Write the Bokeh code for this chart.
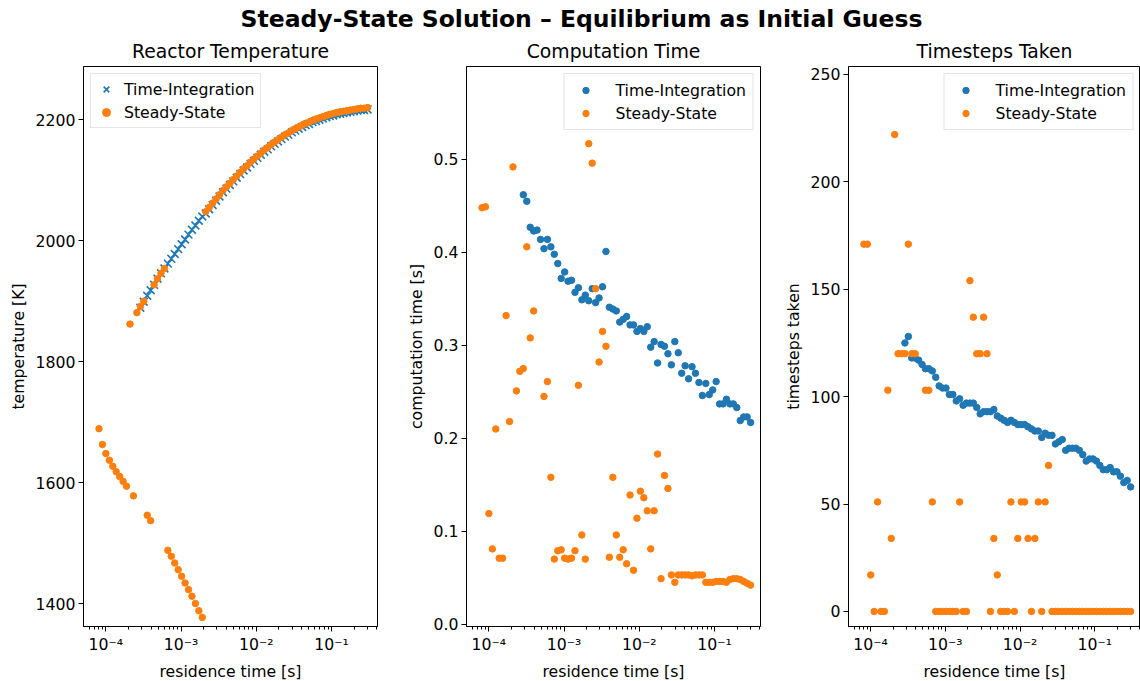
from bokeh.plotting import figure
from bokeh.layouts import row, column
from bokeh.models import (FixedTicker, CustomJSTickFormatter, Legend, LegendItem,
                          Label, Range1d)
from bokeh.embed import file_html
from bokeh.resources import INLINE

nan = float('nan')

# residence times [s] (shared grid)
res_time = [8.128e-05, 9.031e-05, 1.003e-04, 1.115e-04, 1.239e-04, 1.376e-04, 1.529e-04, 1.699e-04, 1.888e-04, 2.098e-04,
            2.331e-04, 2.590e-04, 2.878e-04, 3.198e-04, 3.553e-04, 3.948e-04, 4.386e-04, 4.874e-04, 5.415e-04, 6.017e-04,
            6.686e-04, 7.428e-04, 8.254e-04, 9.171e-04, 1.019e-03, 1.132e-03, 1.258e-03, 1.398e-03, 1.553e-03, 1.726e-03,
            1.917e-03, 2.130e-03, 2.367e-03, 2.630e-03, 2.922e-03, 3.247e-03, 3.608e-03, 4.009e-03, 4.454e-03, 4.949e-03,
            5.499e-03, 6.110e-03, 6.789e-03, 7.543e-03, 8.381e-03, 9.313e-03, 1.035e-02, 1.150e-02, 1.277e-02, 1.419e-02,
            1.577e-02, 1.752e-02, 1.947e-02, 2.163e-02, 2.404e-02, 2.671e-02, 2.968e-02, 3.297e-02, 3.664e-02, 4.071e-02,
            4.523e-02, 5.026e-02, 5.584e-02, 6.205e-02, 6.894e-02, 7.660e-02, 8.511e-02, 9.457e-02, 1.051e-01, 1.167e-01,
            1.297e-01, 1.441e-01, 1.601e-01, 1.779e-01, 1.977e-01, 2.197e-01, 2.441e-01, 2.712e-01, 3.013e-01]

# Reactor temperature [K]
temp_time_integration = [nan, nan, nan, nan, nan, nan, nan, nan, nan, nan,
                         nan, nan, 1889, 1899, 1909, 1918, 1927, 1937, 1946, 1954,
                         1962, 1970, 1978, 1986, 1994, 2002, 2010, 2018, 2025, 2033,
                         2040, 2045, 2052, 2059, 2066, 2073, 2080, 2086, 2092, 2098,
                         2104, 2110, 2116, 2121, 2127, 2132, 2137, 2142, 2147, 2151,
                         2156, 2160, 2164, 2168, 2172, 2175, 2179, 2182, 2185, 2188,
                         2191, 2193, 2196, 2198, 2200, 2202, 2204, 2206, 2207, 2209,
                         2210, 2211, 2212, 2213, 2214, 2215, 2216, 2216, 2217]
temp_steady_state = [1689, 1663, 1648, 1637, 1627, 1618, 1610, 1602, 1594, 1862,
                     1578, 1881, 1891, 1900, 1546, 1537, 1927, 1937, 1946, 1954,
                     1488, 1478, 1467, 1456, 1445, 1434, 1423, 1412, 1400, 1388,
                     1377, 2048, 2055, 2062, 2069, 2076, 2083, 2089, 2095, 2101,
                     2107, 2113, 2119, 2124, 2130, 2135, 2140, 2145, 2150, 2154,
                     2159, 2163, 2167, 2171, 2175, 2178, 2182, 2185, 2188, 2191,
                     2194, 2196, 2199, 2201, 2203, 2205, 2207, 2209, 2210, 2212,
                     2213, 2214, 2215, 2216, 2217, 2218, 2219, 2219, 2220]

# Computation time [s]
ctime_time_integration = [nan, nan, nan, nan, nan, nan, nan, nan, nan, nan,
                          nan, nan, 0.462, 0.455, 0.427, 0.423, 0.424, 0.414, 0.404, 0.414,
                          0.406, 0.398, 0.388, 0.372, 0.379, 0.369, 0.370, 0.357, 0.362, 0.349,
                          0.354, 0.348, 0.361, 0.346, 0.351, 0.363, 0.401, 0.341, 0.339, 0.337,
                          0.325, 0.328, 0.331, 0.322, 0.322, 0.315, 0.318, 0.315, 0.320, 0.298,
                          0.304, 0.281, 0.301, 0.299, 0.291, 0.279, 0.304, 0.292, 0.270, 0.278,
                          0.264, 0.277, 0.270, 0.260, 0.246, 0.259, 0.247, 0.252, 0.261, 0.237,
                          0.237, 0.242, 0.237, 0.237, 0.233, 0.219, 0.223, 0.223, 0.217]
ctime_steady_state = [0.448, 0.449, 0.119, 0.081, 0.210, 0.071, 0.071, 0.332, 0.218, 0.492,
                      0.251, 0.272, 0.275, 0.406, 0.308, 0.337, nan, nan, 0.245, 0.261,
                      0.158, 0.070, 0.079, 0.080, 0.071, 0.070, 0.071, 0.079, 0.257, 0.096,
                      0.070, 0.517, 0.496, 0.361, 0.282, 0.315, 0.299, 0.072, 0.158, 0.096,
                      0.072, 0.080, 0.065, 0.139, 0.058, 0.114, 0.143, 0.136, 0.122, 0.081,
                      0.122, 0.183, 0.049, 0.160, 0.146, 0.053, 0.045, 0.053, 0.053, 0.053,
                      0.053, 0.052, 0.053, 0.053, 0.053, 0.045, 0.045, 0.045, 0.046, 0.046,
                      0.046, 0.045, 0.048, 0.049, 0.049, 0.048, 0.046, 0.044, 0.042]

# Timesteps taken
steps_time_integration = [nan, nan, nan, nan, nan, nan, nan, nan, nan, nan,
                          nan, nan, 125, 128, 118, 118, 117, 115, 113, 113,
                          112, 109, 105, 104, 104, 101, 101, 98, 99, 96,
                          97, 97, 97, 95, 92, 93, 93, 93, 94, 91,
                          90, 89, 88, 89, 88, 87, 87, 87, 86, 85,
                          84, 84, 81, 83, 82, 82, 78, 79, 80, 75,
                          76, 76, 76, 75, 73, 70, 71, 71, 70, 68,
                          66, 66, 67, 65, 65, 63, 60, 61, 58]
steps_steady_state = [171, 171, 17, 0, 51, 0, 0, 103, 34, 222,
                      120, 120, 120, 171, 120, 120, nan, nan, 103, 103,
                      51, 0, 0, 0, 0, 0, 0, 0, 51, 0,
                      0, 154, 137, 120, 120, 137, 120, 0, 34, 17,
                      0, 0, 0, 51, 0, 34, 51, 51, 34, 0,
                      34, 51, 0, 51, 68, 0, 0, 0, 0, 0,
                      0, 0, 0, 0, 0, 0, 0, 0, 0, 0,
                      0, 0, 0, 0, 0, 0, 0, 0, 0]

x_major = [1e-4, 1e-3, 1e-2, 1e-1]

BLUE = "#1f77b4"
ORANGE = "#ff7f0e"
FONT = "DejaVu Sans"
FS = "15.7px"
TOP_H = 33

log_fmt = CustomJSTickFormatter(code="""
const e = Math.round(Math.log10(tick));
const sup = {'-':'\u207b','0':'\u2070','1':'\u00b9','2':'\u00b2','3':'\u00b3','4':'\u2074',
             '5':'\u2075','6':'\u2076','7':'\u2077','8':'\u2078','9':'\u2079'};
return '10' + String(e).split('').map(c => sup[c]).join('');
""")

minor = []
for d in range(-5, 0):
    for m in range(2, 10):
        minor.append(m * 10.0 ** d)


def make_fig(title, ylabel, yr, yticks, yfmt, left, right, fw):
    p = figure(x_axis_type="log", frame_width=fw, frame_height=560,
               min_border_left=left, min_border_right=right, min_border_top=66 - TOP_H,
               min_border_bottom=55, toolbar_location=None, output_backend="svg",
               x_range=Range1d(10 ** -4.296, 10 ** -0.389), y_range=Range1d(*yr))
    p.title.text = title
    p.title.align = "center"
    p.title.text_font = FONT
    p.title.text_font_size = "18.8px"
    p.title.text_font_style = "normal"
    p.title.text_color = "black"
    p.title.standoff = 9
    p.xgrid.visible = False
    p.ygrid.visible = False
    p.outline_line_color = "black"
    p.outline_line_alpha = 1
    p.outline_line_width = 1
    p.background_fill_color = "white"
    p.border_fill_color = "white"
    p.xaxis.ticker = FixedTicker(ticks=x_major, minor_ticks=minor)
    p.xaxis.formatter = log_fmt
    p.yaxis.ticker = FixedTicker(ticks=yticks)
    if yfmt is not None:
        p.yaxis.formatter = yfmt
    for ax in (p.xaxis, p.yaxis):
        ax.axis_line_color = "black"
        ax.axis_line_width = 1
        ax.major_tick_line_color = "black"
        ax.minor_tick_line_color = "black"
        ax.major_tick_out = 5
        ax.major_tick_in = 0
        ax.minor_tick_out = 3
        ax.minor_tick_in = 0
        ax.major_label_text_font = FONT
        ax.major_label_text_font_size = FS
        ax.major_label_text_color = "black"
        ax.major_label_standoff = 3
        ax.axis_label_text_font = FONT
        ax.axis_label_text_font_size = FS
        ax.axis_label_text_font_style = "normal"
        ax.axis_label_text_color = "black"
        ax.axis_label_standoff = 5
    p.yaxis.minor_tick_line_color = None
    p.xaxis.axis_label = "residence time [s]"
    p.yaxis.axis_label = ylabel
    return p


def add_legend(p, items, loc, pad, gw, gh, standoff):
    lg = Legend(items=items, location=loc)
    lg.label_text_font = FONT
    lg.label_text_font_size = FS
    lg.label_text_color = "black"
    lg.glyph_width = gw
    lg.glyph_height = gh
    lg.label_standoff = standoff
    lg.label_height = 20
    lg.spacing = 3
    lg.padding = pad
    lg.margin = 7
    lg.border_line_color = "#cccccc"
    lg.border_line_width = 1
    lg.background_fill_alpha = 0.8
    p.add_layout(lg)


# Panel 1
p1 = make_fig("Reactor Temperature", "temperature [K]", (1362, 2288),
              [1400, 1600, 1800, 2000, 2200], None, 83, 23, 294)
r1a = p1.scatter(res_time, temp_time_integration, marker="x", size=11,
                 line_color=BLUE, line_width=1.6)
r1b = p1.scatter(res_time, temp_steady_state, marker="circle", size=6.5,
                 fill_color=ORANGE, line_color=ORANGE)
add_legend(p1, [LegendItem(label="Time-Integration", renderers=[r1a]),
                LegendItem(label="Steady-State", renderers=[r1b])],
           "top_left", 5, 20, 20, 8)

# Panel 2
fmt1 = CustomJSTickFormatter(code="return tick.toFixed(1);")
p2 = make_fig("Computation Time", "computation time [s]", (-0.0025, 0.6),
              [0.0, 0.1, 0.2, 0.3, 0.4, 0.5], fmt1, 66, 20, 294)
r2a = p2.scatter(res_time, ctime_time_integration, marker="circle", size=6.5,
                 fill_color=BLUE, line_color=BLUE)
r2b = p2.scatter(res_time, ctime_steady_state, marker="circle", size=6.5,
                 fill_color=ORANGE, line_color=ORANGE)
add_legend(p2, [LegendItem(label="Time-Integration", renderers=[r2a]),
                LegendItem(label="Steady-State", renderers=[r2b])],
           "top_right", 6, 30, 16, 15)

# Panel 3
p3 = make_fig("Timesteps Taken", "timesteps taken", (-7, 253.7),
              [0, 50, 100, 150, 200, 250], None, 68, 0, 292)
r3a = p3.scatter(res_time, steps_time_integration, marker="circle", size=6.5,
                 fill_color=BLUE, line_color=BLUE)
r3b = p3.scatter(res_time, steps_steady_state, marker="circle", size=6.5,
                 fill_color=ORANGE, line_color=ORANGE)
add_legend(p3, [LegendItem(label="Time-Integration", renderers=[r3a]),
                LegendItem(label="Steady-State", renderers=[r3b])],
           "top_right", 6, 30, 16, 15)

# Suptitle
pt = figure(width=1140, height=TOP_H, toolbar_location=None, output_backend="svg",
            x_range=Range1d(0, 1140), y_range=Range1d(0, TOP_H),
            min_border=0)
pt.axis.visible = False
pt.grid.visible = False
pt.outline_line_color = None
pt.add_layout(Label(x=581, y=TOP_H - 18, text="Steady-State Solution \u2013 Equilibrium as Initial Guess",
                    text_align="center", text_baseline="middle", text_font=FONT,
                    text_font_size="23.5px", text_font_style="bold", text_color="black"))

layout = column(pt, row(p1, p2, p3, spacing=0), spacing=0)
open("out.html", "w").write(file_html(layout, INLINE))
